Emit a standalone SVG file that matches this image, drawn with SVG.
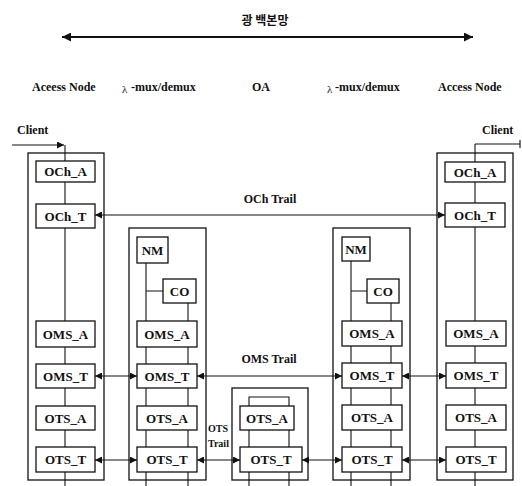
<svg xmlns="http://www.w3.org/2000/svg" width="522" height="486" viewBox="0 0 522 486" font-family="'Liberation Serif', 'DejaVu Serif', serif">
<style>
  .frame{fill:none;stroke:#111;stroke-width:1.3}
  .box{fill:#fff;stroke:#111;stroke-width:1.3}
  .ln{fill:none;stroke:#111;stroke-width:1.1}
  .conn{fill:none;stroke:#111;stroke-width:1.2;marker-start:url(#ah);marker-end:url(#ah)}
  text{font-family:'Liberation Serif','DejaVu Serif',serif;font-weight:bold;fill:#111}
  .bl{font-size:13px;text-anchor:middle}
  .hd{font-size:12px}
  text.kr{font-family:'Noto Sans CJK KR',sans-serif;font-size:12px;text-anchor:middle;font-weight:bold}
  .lam{font-size:11px;font-weight:normal}
</style>
<defs>
  <marker id="ah" viewBox="0 0 10 10" refX="10" refY="5" markerWidth="8" markerHeight="7" markerUnits="userSpaceOnUse" orient="auto-start-reverse">
    <path d="M0,0 L10,5 L0,10 z" fill="#111"/>
  </marker>
  <marker id="ahbig" viewBox="0 0 10 10" refX="10" refY="5" markerWidth="11" markerHeight="9" markerUnits="userSpaceOnUse" orient="auto-start-reverse">
    <path d="M0,0 L10,5 L0,10 z" fill="#111"/>
  </marker>
</defs>

<g id="header">
  <text class="kr" x="265" y="25">광 백본망</text>
  <line x1="62" y1="37" x2="473" y2="37" stroke="#111" stroke-width="2" marker-start="url(#ahbig)" marker-end="url(#ahbig)"/>
  <text class="hd" x="32" y="91">Aceess Node</text>
  <text class="lam" x="122" y="93">λ</text>
  <text class="hd" x="131" y="91">-mux/demux</text>
  <text class="hd" x="252" y="91">OA</text>
  <text class="lam" x="327" y="93">λ</text>
  <text class="hd" x="335" y="91">-mux/demux</text>
  <text class="hd" x="438" y="91">Access Node</text>
  <text class="hd" x="17" y="134">Client</text>
  <text class="hd" x="482" y="134">Client</text>
</g>

<g id="access-node-left">
  <rect class="frame" x="28" y="153" width="76" height="327"/>
  <path class="ln" d="M65,145 V486"/>
  <rect class="box" x="36" y="161" width="59" height="21"/><text class="bl" x="65.5" y="176">OCh_A</text>
  <rect class="box" x="36" y="204" width="59" height="24"/><text class="bl" x="65.5" y="221">OCh_T</text>
  <rect class="box" x="36" y="321" width="59" height="26"/><text class="bl" x="65.5" y="338.5">OMS_A</text>
  <rect class="box" x="36" y="364" width="59" height="24"/><text class="bl" x="65.5" y="380.5">OMS_T</text>
  <rect class="box" x="36" y="406" width="59" height="24"/><text class="bl" x="65.5" y="422.5">OTS_A</text>
  <rect class="box" x="36" y="447" width="59" height="25"/><text class="bl" x="65.5" y="464">OTS_T</text>
</g>

<g id="mux-left">
  <rect class="frame" x="129" y="228" width="77" height="252"/>
  <path class="ln" d="M146,263 V486 M146,291 H163 M188,303 V486"/>
  <rect class="box" x="137" y="237" width="31" height="26"/><text class="bl" x="152.5" y="254.5">NM</text>
  <rect class="box" x="163" y="279" width="33" height="24"/><text class="bl" x="179.5" y="295.5">CO</text>
  <rect class="box" x="137" y="321" width="60" height="26"/><text class="bl" x="167" y="338.5">OMS_A</text>
  <rect class="box" x="137" y="364" width="60" height="24"/><text class="bl" x="167" y="380.5">OMS_T</text>
  <rect class="box" x="137" y="406" width="60" height="24"/><text class="bl" x="167" y="422.5">OTS_A</text>
  <rect class="box" x="137" y="447" width="60" height="25"/><text class="bl" x="167" y="464">OTS_T</text>
</g>

<g id="oa">
  <rect class="frame" x="232" y="388" width="76" height="92"/>
  <path class="ln" d="M249,486 V397 H289 V486"/>
  <rect class="box" x="240" y="406" width="54" height="24"/><text class="bl" x="267" y="422.5">OTS_A</text>
  <rect class="box" x="240" y="447" width="62" height="25"/><text class="bl" x="271" y="464">OTS_T</text>
</g>

<g id="mux-right">
  <rect class="frame" x="333" y="228" width="77" height="252"/>
  <path class="ln" d="M351,261 V486 M351,291 H367 M391,303 V486"/>
  <rect class="box" x="342" y="237" width="28" height="24"/><text class="bl" x="356" y="253.5">NM</text>
  <rect class="box" x="367" y="279" width="32" height="24"/><text class="bl" x="383" y="295.5">CO</text>
  <rect class="box" x="342" y="321" width="60" height="25"/><text class="bl" x="372" y="338">OMS_A</text>
  <rect class="box" x="342" y="363" width="60" height="25"/><text class="bl" x="372" y="380">OMS_T</text>
  <rect class="box" x="342" y="405" width="60" height="25"/><text class="bl" x="372" y="422">OTS_A</text>
  <rect class="box" x="342" y="447" width="60" height="25"/><text class="bl" x="372" y="464">OTS_T</text>
</g>

<g id="access-node-right">
  <rect class="frame" x="437" y="153" width="76" height="327"/>
  <path class="ln" d="M475,144 V486 M475,144 H520 M520,140 V148"/>
  <rect class="box" x="445" y="162" width="60" height="20"/><text class="bl" x="475" y="176.5">OCh_A</text>
  <rect class="box" x="445" y="203" width="60" height="24"/><text class="bl" x="475" y="219.5">OCh_T</text>
  <rect class="box" x="446" y="321" width="60" height="25"/><text class="bl" x="476" y="338">OMS_A</text>
  <rect class="box" x="446" y="363" width="60" height="25"/><text class="bl" x="476" y="380">OMS_T</text>
  <rect class="box" x="446" y="405" width="60" height="25"/><text class="bl" x="476" y="422">OTS_A</text>
  <rect class="box" x="446" y="447" width="60" height="25"/><text class="bl" x="476" y="464">OTS_T</text>
</g>

<g id="connectors">
  <path class="ln" d="M12,145 H64" marker-end="url(#ah)"/>
  <line class="conn" x1="95" y1="215" x2="445" y2="215"/>
  <text class="bl" x="270" y="203" style="font-size:12px">OCh Trail</text>
  <line class="conn" x1="95" y1="376" x2="137" y2="376"/>
  <line class="conn" x1="197" y1="376" x2="342" y2="376"/>
  <text class="bl" x="269" y="363" style="font-size:12px">OMS Trail</text>
  <line class="conn" x1="402" y1="376" x2="446" y2="376"/>
  <line class="conn" x1="95" y1="460" x2="137" y2="460"/>
  <line class="conn" x1="197" y1="460" x2="240" y2="460"/>
  <text x="208" y="432" style="font-size:10px">OTS</text>
  <text x="208" y="447" style="font-size:10px">Trail</text>
  <line class="conn" x1="302" y1="460" x2="342" y2="460"/>
  <line class="conn" x1="402" y1="460" x2="446" y2="460"/>
</g>
</svg>
